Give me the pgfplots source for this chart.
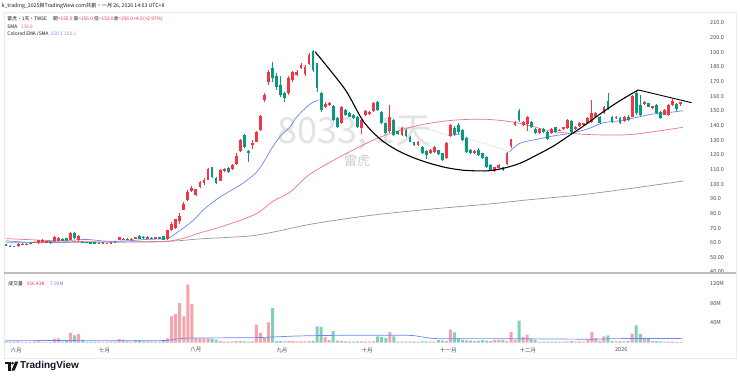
\documentclass[border=0pt]{standalone}
\usepackage{pgfplots}
\pgfplotsset{compat=1.18}
\usepackage{pgfplotstable}
\usepackage{fontspec}
\setmainfont{Noto Sans CJK TC}
\newfontfamily\tvfont{Liberation Sans}
\definecolor{upc}{RGB}{242,54,69}
\definecolor{dnc}{RGB}{8,153,129}
\definecolor{volup}{RGB}{247,163,170}
\definecolor{voldn}{RGB}{130,206,194}
\definecolor{emab}{RGB}{105,135,245}
\definecolor{smap}{RGB}{240,115,130}
\definecolor{smag}{RGB}{150,150,150}
\definecolor{txt}{RGB}{19,23,34}
\definecolor{axt}{RGB}{70,74,84}

\pgfplotstableread{
i o h l c v
0 58.9 59.3 57.8 58.0 2.5
1 58.0 58.3 57.1 57.4 1.5
2 57.8 58.0 56.9 57.1 1.5
3 57.6 59.8 57.3 59.2 2.4
4 59.4 59.8 58.2 58.5 1.5
5 58.8 59.6 58.6 59.3 1.5
6 60.1 60.4 59.1 59.4 1.5
7 59.9 60.8 59.7 60.5 2.5
8 59.6 62.1 59.3 61.7 2.5
9 60.6 62.2 60.4 61.7 1.5
10 60.5 61.3 60.2 61.0 1.5
11 60.8 61.1 59.3 59.6 1.5
12 61.0 64.6 60.8 63.9 7.8
13 61.4 64.1 61.2 63.3 8.6
14 62.6 62.9 61.4 61.7 2.0
15 63.0 63.4 61.5 61.7 3.0
16 61.9 67.6 61.6 66.9 19.5
17 66.7 67.3 62.8 63.0 14.7
18 61.7 65.0 61.4 64.6 17.4
19 60.7 61.0 59.9 60.1 6.0
20 60.5 60.8 59.8 60.1 1.5
21 60.3 60.6 59.7 59.9 1.5
22 60.2 60.4 59.5 59.7 1.2
23 60.1 60.4 58.9 59.2 1.5
24 59.6 60.6 59.4 60.3 1.5
25 59.2 60.1 58.9 59.9 1.5
26 59.9 60.4 59.6 60.2 2.0
27 60.8 61.1 59.8 60.1 2.0
28 61.9 64.0 61.6 63.7 7.0
29 61.9 63.2 61.6 62.8 6.0
30 62.8 63.1 61.8 62.1 2.5
31 62.1 62.9 61.9 62.6 2.0
32 62.6 64.0 62.4 63.7 5.0
33 64.6 65.5 62.6 62.8 5.0
34 64.2 64.5 62.8 63.0 2.5
35 62.6 64.3 62.4 64.0 2.5
36 63.5 63.8 62.5 62.8 2.0
37 62.4 64.0 62.2 63.7 2.0
38 63.7 64.0 62.5 62.8 2.0
39 64.4 64.8 61.7 62.0 3.5
40 62.2 69.0 62.0 68.4 8.6
41 69.0 74.0 68.0 72.6 53.7
42 70.0 76.5 69.5 76.0 58.4
43 75.0 80.0 73.0 78.5 81.0
44 82.5 87.5 82.0 86.5 53.7
45 89.0 96.0 88.5 94.8 118.5
46 95.0 98.5 94.5 97.6 79.0
47 92.8 97.0 92.0 96.5 9.2
48 98.0 102.0 97.5 101.5 8.6
49 100.6 104.0 99.5 102.8 7.8
50 103.0 111.0 102.5 110.3 7.8
51 111.5 112.0 104.5 105.1 7.0
52 104.4 105.0 100.0 100.6 6.0
53 102.3 110.5 102.0 109.7 3.0
54 109.0 111.0 108.5 110.3 2.5
55 110.8 111.5 107.5 108.0 2.0
56 110.3 114.0 109.5 113.1 2.5
57 113.5 121.0 113.0 119.4 3.0
58 122.6 130.8 122.0 130.1 3.0
59 133.5 134.0 125.0 125.6 2.5
60 122.5 123.0 115.0 121.5 2.0
61 126.7 130.0 124.0 128.3 2.5
62 129.0 136.0 128.5 135.4 36.5
63 137.0 147.0 136.5 146.5 19.5
64 157.4 162.0 156.0 160.9 9.6
65 170.0 178.0 168.0 176.8 41.4
66 179.0 183.6 170.0 172.3 70.7
67 173.5 176.0 164.0 166.0 3.0
68 168.0 174.0 159.5 160.9 3.0
69 162.0 163.0 156.0 158.6 2.5
70 162.0 173.5 161.0 172.7 3.0
71 171.1 177.5 170.0 176.8 3.0
72 174.5 178.0 174.0 176.8 2.5
73 179.5 183.0 178.5 181.3 2.5
74 175.0 181.0 174.0 180.2 2.5
75 181.8 189.5 181.0 188.2 3.0
76 190.9 191.6 176.5 177.9 3.5
77 182.5 183.0 163.0 165.4 33.2
78 162.0 163.0 149.0 150.6 31.8
79 152.9 156.0 152.0 154.5 11.0
80 154.0 156.0 153.0 155.5 5.0
81 153.3 154.0 143.0 143.8 24.0
82 144.9 145.5 138.5 139.2 4.0
83 141.5 153.5 141.0 152.9 3.0
84 150.6 151.0 146.5 147.2 2.5
85 148.4 149.0 145.5 146.0 2.0
86 147.5 148.0 144.5 145.0 2.0
87 146.0 146.5 138.5 139.2 2.5
88 138.5 144.5 134.0 143.8 2.5
89 147.2 150.5 146.5 149.9 2.0
90 148.0 150.0 147.5 149.5 2.0
91 149.9 156.0 149.0 155.2 2.5
92 155.9 156.5 150.0 150.6 12.7
93 149.5 150.0 141.0 141.5 11.0
94 141.5 142.0 134.0 134.7 9.0
95 136.0 154.0 135.0 146.0 21.5
96 143.8 144.5 133.0 133.5 12.7
97 136.0 136.5 133.5 134.0 2.0
98 133.5 139.0 133.0 138.1 2.0
99 137.0 137.5 132.5 133.0 2.0
100 132.4 133.0 128.5 129.0 2.0
101 128.6 129.0 126.0 126.7 2.0
102 126.7 129.5 126.0 129.0 2.0
103 125.6 126.0 120.5 121.1 2.5
104 122.6 123.0 117.0 119.9 2.5
105 121.1 124.0 120.5 123.3 2.0
106 122.0 126.0 121.5 125.5 2.0
107 123.0 123.5 120.0 120.5 5.0
108 121.1 121.5 115.5 116.5 4.0
109 117.6 128.5 117.0 127.9 3.0
110 133.1 141.0 132.5 140.4 26.3
111 138.1 140.0 133.0 134.0 21.0
112 140.4 141.5 134.5 135.4 8.0
113 137.0 137.5 129.5 130.1 5.0
114 131.3 132.0 121.5 122.2 4.5
115 123.3 124.0 120.5 121.1 4.0
116 121.0 123.0 120.5 122.5 3.0
117 123.0 124.5 119.5 120.0 4.0
118 121.1 121.5 117.0 117.6 5.0
119 118.3 119.0 111.0 111.9 4.0
120 113.1 114.0 109.0 109.7 3.0
121 109.2 112.0 108.5 111.5 5.0
122 111.0 113.5 110.5 113.0 5.0
123 111.5 112.0 108.8 109.5 5.0
124 113.8 122.0 113.0 121.5 3.0
125 126.0 131.0 125.0 130.6 21.5
126 140.4 143.0 139.8 142.6 5.0
127 150.1 151.0 142.5 143.8 44.7
128 140.4 143.0 139.8 142.6 11.0
129 141.1 146.5 136.0 145.6 16.0
130 142.6 143.0 138.5 139.2 8.0
131 137.4 138.0 134.5 135.1 6.0
132 135.1 138.0 134.5 137.4 2.0
133 137.4 138.0 135.2 135.8 2.0
134 135.8 136.3 130.0 130.6 2.0
135 134.7 138.0 134.2 137.4 2.0
136 138.8 139.3 135.2 135.8 2.0
137 136.5 137.5 136.0 137.2 2.0
138 137.5 139.3 137.0 138.8 2.0
139 138.1 144.5 137.5 143.8 2.5
140 143.3 144.0 135.0 135.8 3.0
141 137.5 139.5 137.0 139.0 2.0
142 139.7 142.5 139.2 141.9 2.5
143 140.5 142.0 140.0 141.5 2.0
144 141.5 145.5 141.0 144.9 6.0
145 142.6 157.4 141.5 148.8 21.5
146 146.0 149.5 145.5 148.8 9.0
147 146.0 146.5 141.0 141.5 3.0
148 148.4 153.5 148.0 152.9 12.7
149 157.0 162.0 150.5 151.1 14.7
150 146.0 146.5 142.0 142.6 3.0
151 145.0 146.5 144.5 146.0 2.5
152 145.0 145.5 141.0 141.6 2.5
153 143.0 146.5 142.5 146.0 2.5
154 146.0 147.0 143.0 143.5 3.0
155 146.0 161.0 145.5 160.0 18.0
156 162.0 164.3 147.5 148.4 35.0
157 154.0 160.9 146.5 147.2 17.0
158 154.5 157.0 154.0 156.3 8.0
159 155.2 155.7 152.4 152.9 8.0
160 152.0 153.5 151.5 153.0 3.0
161 154.0 154.5 147.9 148.4 3.0
162 149.5 150.0 144.4 144.9 2.5
163 147.5 151.0 147.0 150.5 2.0
164 147.2 154.5 146.7 154.0 2.0
165 154.0 158.0 153.5 157.0 2.0
166 154.7 155.2 150.1 151.5 1.5
167 155.0 156.0 153.0 156.0 0.9
}\candles

\begin{document}
\begin{tikzpicture}
\fill[white] (0,0) rectangle (740pt,-384pt);
\begin{scope}[x=1pt,y=-1pt]
  \draw[black!8, line width=0.5pt] (4,12.5) rectangle (736,358);
  \node[anchor=base west, inner sep=0pt, font=\fontsize{36}{36}\selectfont, text=black!11] at (277,143) {8033, 1天};
  \node[inner sep=0pt, font=\fontsize{13}{13}\selectfont, text=black!20] at (357,161) {雷虎};
\end{scope}

\begin{axis}[
  at={(4pt,-272pt)}, anchor=south west,
  scale only axis, width=693pt, height=258pt,
  xmin=-0.495, xmax=171.04, ymin=40, ymax=216.14,
  axis line style={draw=none}, major tick length=0pt,
  xtick=\empty,
  ytick={40,50,...,210},
  yticklabels={40.00,50.00,60.0,70.0,80.0,90.0,100.0,110.0,120.0,130.0,140.0,150.0,160.0,170.0,180.0,190.0,200.0,210.0},
  yticklabel pos=right,
  yticklabel style={anchor=west, font=\fontsize{5.5}{6}\selectfont, text=axt, inner sep=0pt, xshift=13pt},
]
% moving averages
\addplot[smag, line width=0.7pt, smooth, forget plot] coordinates {(0,60.0) (20,60.3) (40,61.0) (48,62.6) (60.4,64.6) (66.6,67.5) (74.4,72.1) (82.7,75.8) (90.9,78.9) (100,81.6) (107.4,83.5) (119.8,86.5) (129.7,89.4) (142.1,92.6) (154.5,97.0) (167.6,102.1)};
\addplot[smap, line width=0.7pt, smooth, forget plot] coordinates {(0,62.8) (8,61.8) (15,61.0) (22,60.6) (30,60.4) (36,60.5) (40,61.0) (44,63.0) (47.6,66.4) (52,69.8) (55.9,73.3) (59,76.3) (62.5,80.6) (66.2,88.5) (70.3,94.5) (74.4,105.1) (78,111.5) (82.7,118.7) (87,124.8) (90.9,130.1) (95,134.5) (99.2,138.1) (103,140.6) (107.4,142.6) (111,143.7) (115.7,144.3) (119,144.2) (123.1,143.3) (127.2,141.5) (131,138.9) (135.5,135.8) (142.1,134.2) (147,133.6) (152,133.5) (156,134.2) (160.2,135.8) (164,137.3) (167.6,138.8)};
\addplot[emab, line width=0.7pt, smooth, forget plot] coordinates {(0,61.3) (5,60.4) (10,60.7) (15,61.5) (20,62.2) (25,61.0) (30,61.3) (35,62.3) (40,63.0) (42.6,67.5) (46,74.4) (49.3,83.5) (52.5,90.3) (55.9,96.0) (59.2,101.7) (62.5,109.7) (65.8,124.5) (67.8,132.4) (70.3,139.2) (72,146.0) (75.2,154.5) (77.3,157.4)};
\addplot[black!25, line width=0.6pt, densely dotted, forget plot] coordinates {(104,138.0) (109.4,133.4)};
\addplot[emab, line width=0.7pt, forget plot] coordinates {(109.4,133.4) (112.9,134.3)};
\addplot[black!25, line width=0.6pt, densely dotted, smooth, forget plot] coordinates {(112.9,134.3) (115,130.6) (120,126.5) (124.6,122.2)};
\addplot[emab, line width=0.7pt, smooth, forget plot] coordinates {(124.6,122.2) (127.2,127.9) (131.4,130.6) (135.5,132.9) (139.6,134.7) (143.7,137.4) (147.9,141.9) (152,143.3) (156.1,145.6) (160.2,147.9) (164.4,149.0) (167.6,150.1)};
% wicks
\addplot[draw=none, mark=none, forget plot,
  x filter/.expression={\thisrow{c}<\thisrow{o} ? nan : x},
  error bars/.cd, y dir=both, y explicit, error mark=none,
  error bar style={draw=upc, line width=0.7pt}]
  table[x=i, y expr={(\thisrow{h}+\thisrow{l})/2}, y error expr={(\thisrow{h}-\thisrow{l})/2}] {\candles};
\addplot[draw=none, mark=none, forget plot,
  x filter/.expression={\thisrow{c}<\thisrow{o} ? x : nan},
  error bars/.cd, y dir=both, y explicit, error mark=none,
  error bar style={draw=dnc, line width=0.7pt}]
  table[x=i, y expr={(\thisrow{h}+\thisrow{l})/2}, y error expr={(\thisrow{h}-\thisrow{l})/2}] {\candles};
% bodies
\addplot[draw=none, mark=none, forget plot,
  x filter/.expression={\thisrow{c}<\thisrow{o} ? nan : x},
  error bars/.cd, y dir=both, y explicit, error mark=none,
  error bar style={draw=upc, line width=2.8pt}]
  table[x=i, y expr={(\thisrow{o}+\thisrow{c})/2}, y error expr={max(abs(\thisrow{o}-\thisrow{c})/2,0.35)}] {\candles};
\addplot[draw=none, mark=none, forget plot,
  x filter/.expression={\thisrow{c}<\thisrow{o} ? x : nan},
  error bars/.cd, y dir=both, y explicit, error mark=none,
  error bar style={draw=dnc, line width=2.8pt}]
  table[x=i, y expr={(\thisrow{o}+\thisrow{c})/2}, y error expr={max(abs(\thisrow{o}-\thisrow{c})/2,0.35)}] {\candles};
% drawings
\addplot[black, line width=1.1pt, smooth, tension=0.5, forget plot] coordinates {(76.5,190.4) (80.2,177.9) (84.3,163.1) (88.4,143.1) (92.6,130.8) (96.7,123.3) (100.8,118.1) (104.9,114.2) (109.1,111.2) (113.2,109.5) (117.3,109.0) (119.8,109.2) (123.1,110.8) (127.2,114.2) (131.4,119.9) (135.5,126.0) (139.6,133.5) (143.7,141.1) (147.9,149.5) (152.0,157.0) (156.5,164.3)};
\addplot[black, line width=0.9pt, forget plot] coordinates {(156.5,164.3) (169.7,155.6)};
\end{axis}

\begin{axis}[
  at={(4pt,-342.5pt)}, anchor=south west,
  scale only axis, width=693pt, height=65.5pt,
  xmin=-0.495, xmax=171.04, ymin=0, ymax=134.3,
  axis line style={draw=none}, major tick length=0pt,
  xtick={2.5,24.4,47.0,68.3,89.4,109.5,129.2,152.3},
  xticklabels={六月,七月,八月,九月,十月,十一月,十二月,2026},
  xticklabel style={font=\fontsize{5.5}{6}\selectfont, text=axt, inner sep=0pt, anchor=center, yshift=-7.5pt},
  ytick={40,80,120},
  yticklabels={40M,80M,120M},
  yticklabel pos=right,
  yticklabel style={anchor=west, font=\fontsize{5.5}{6}\selectfont, text=axt, inner sep=0pt, xshift=13pt},
]
\addplot[ybar, bar width=3pt, bar shift=0pt, fill=volup, draw=none, forget plot,
  x filter/.expression={\thisrow{c}<\thisrow{o} ? nan : x}] table[x=i, y=v] {\candles};
\addplot[ybar, bar width=3pt, bar shift=0pt, fill=voldn, draw=none, forget plot,
  x filter/.expression={\thisrow{c}<\thisrow{o} ? x : nan}] table[x=i, y=v] {\candles};
\addplot[emab, line width=0.7pt, smooth, forget plot] coordinates {(0,3.7) (14,4.0) (28,3.5) (39,4.0) (41,6.0) (44,8.5) (46.8,9.2) (61.6,10.0) (66.6,11.5) (72.8,13.5) (82.7,14.7) (99.2,14.7) (102.5,12.0) (106.7,8.0) (117.3,8.0) (130,7.5) (144.6,6.8) (152,8.0) (167.6,8.0)};
\end{axis}

\begin{scope}[x=1pt,y=-1pt]
  \draw[black!25, line width=2pt] (4,273) -- (736,273);
  \node[anchor=west, inner sep=0pt, font=\fontsize{5.2}{6}\selectfont, text=txt] at (1.5,6) {k\_trading\_2025與TradingView.com共創・一月 26, 2026 14:03 UTC+8};
  \begin{scope}[every node/.style={anchor=west, inner sep=0pt, font=\fontsize{4.8}{5.5}\selectfont, text=txt}]
    \node at (7.3,19) {雷虎・1天・TWSE};
    \node at (53,19) {開\textcolor{upc}{=155.0}};
    \node at (73.3,19) {高\textcolor{upc}{=156.0}};
    \node at (94,19) {低\textcolor{upc}{=153.0}};
    \node at (113.3,19) {收\textcolor{upc}{=156.0}};
    \node[text=upc] at (133.3,19) {+4.5};
    \node[text=upc] at (143,19) {(+2.97\%)};
    \node at (7.3,26.7) {SMA};
    \node[text=smap] at (20.7,26.7) {138.8};
    \node at (7.3,34) {Colored EMA /SMA};
    \node[text=emab] at (50.5,34) {150.1};
    \node[text=smag] at (64,34) {102.1};
    \node at (8.3,283.5) {成交量};
    \node[text=upc] at (26.7,283.5) {916.43K};
    \node[text=emab] at (50,283.5) {7.99M};
  \end{scope}
  % TradingView logo
  \fill[txt] (5,361.5) rectangle (10.5,364);
  \fill[txt] (7.6,361.5) rectangle (10.5,370.5);
  \fill[txt] (12.6,363.2) circle (1.4);
  \fill[txt] (15.2,361.5) -- (18.4,361.5) -- (14.6,370.5) -- (11.4,370.5) -- cycle;
  \node[anchor=west, inner sep=0pt, font=\tvfont\bfseries\fontsize{10}{10}\selectfont, text=txt] at (20,366) {TradingView};
\end{scope}
\pgfresetboundingbox
\path[use as bounding box] (0,0) rectangle (740pt,-384pt);
\end{tikzpicture}
\end{document}
